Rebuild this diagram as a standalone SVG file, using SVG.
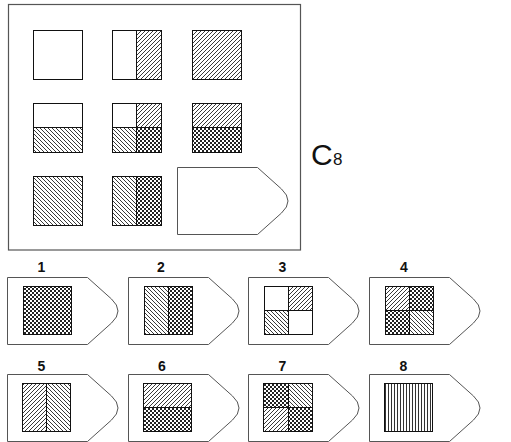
<svg xmlns="http://www.w3.org/2000/svg" width="511" height="442" viewBox="0 0 511 442">
<style>
.sq{stroke:#111;stroke-width:1}
.w{fill:#fff}
.f{fill:url(#fwd)}
.b{fill:url(#back)}
.c{fill:url(#chk)}
.v{fill:url(#vert)}
.pent{fill:#fff;stroke:#555;stroke-width:1}
.lbl{font-family:"Liberation Sans",Arial,sans-serif;font-weight:bold;font-size:14px;text-anchor:middle;fill:#111}
</style>
<defs>
<pattern id="fwd" patternUnits="userSpaceOnUse" width="4" height="4">
<rect width="4" height="4" fill="#fff"/>
<path d="M-1,1 L1,-1 M0,4 L4,0 M3,5 L5,3" stroke="#222" stroke-width="0.9"/>
</pattern>
<pattern id="back" patternUnits="userSpaceOnUse" width="4" height="4">
<rect width="4" height="4" fill="#fff"/>
<path d="M-1,3 L1,5 M0,0 L4,4 M3,-1 L5,1" stroke="#222" stroke-width="0.9"/>
</pattern>
<pattern id="chk" patternUnits="userSpaceOnUse" width="4" height="4">
<rect width="4" height="4" fill="#fff"/>
<rect width="2" height="2" fill="#222"/>
<rect x="2" y="2" width="2" height="2" fill="#222"/>
</pattern>
<pattern id="vert" patternUnits="userSpaceOnUse" width="3" height="3">
<rect width="3" height="3" fill="#fff"/>
<rect x="1" width="1" height="3" fill="#333"/>
</pattern>
<path id="pshape" d="M0,0 H80 L104,21.5 Q117,33.5 104,45.5 L80,67 H0 Z"/>
</defs>
<rect width="511" height="442" fill="#fff"/>
<g id="connectors"/>
<g id="matrix">
<rect x="8.5" y="4.5" width="292" height="245.5" fill="none" stroke="#555" stroke-width="1.2"/>
<g id="m11"><rect class="sq w" x="33.5" y="30.5" width="49" height="49"/></g>
<g id="m12"><rect class="sq w" x="112.5" y="30.5" width="24" height="49"/><rect class="sq f" x="136.5" y="30.5" width="25" height="49"/></g>
<g id="m13"><rect class="sq f" x="192.5" y="30.5" width="49" height="49"/></g>
<g id="m21"><rect class="sq w" x="33.5" y="103.5" width="49" height="24"/><rect class="sq b" x="33.5" y="127.5" width="49" height="25"/></g>
<g id="m22"><rect class="sq w" x="112.5" y="103.5" width="24" height="24"/><rect class="sq f" x="136.5" y="103.5" width="25" height="24"/><rect class="sq b" x="112.5" y="127.5" width="24" height="25"/><rect class="sq c" x="136.5" y="127.5" width="25" height="25"/></g>
<g id="m23"><rect class="sq f" x="192.5" y="103.5" width="49" height="24"/><rect class="sq c" x="192.5" y="127.5" width="49" height="25"/></g>
<g id="m31"><rect class="sq b" x="33.5" y="176.5" width="49" height="49"/></g>
<g id="m32"><rect class="sq b" x="112.5" y="176.5" width="24" height="49"/><rect class="sq c" x="136.5" y="176.5" width="25" height="49"/></g>
<g id="m33"><use href="#pshape" class="pent" transform="translate(177.5,167.5)"/></g>
</g>
<g id="title"><text x="311" y="165" font-family="'Liberation Sans',Arial,sans-serif" font-size="30" fill="#111">C</text><text x="333" y="165" font-family="'Liberation Sans',Arial,sans-serif" font-size="17" fill="#111">8</text></g>
<g id="opt1"><text class="lbl" x="41.5" y="272">1</text><use href="#pshape" class="pent" transform="translate(7.5,277.5)"/><rect class="sq c" x="23.5" y="286.5" width="48" height="48"/></g>
<g id="opt2"><text class="lbl" x="161" y="272">2</text><use href="#pshape" class="pent" transform="translate(128.5,277.5)"/><rect class="sq b" x="144.5" y="286.5" width="24" height="48"/><rect class="sq c" x="168.5" y="286.5" width="24" height="48"/></g>
<g id="opt3"><text class="lbl" x="282.5" y="272">3</text><use href="#pshape" class="pent" transform="translate(248.5,277.5)"/><rect class="sq w" x="264.5" y="286.5" width="24" height="24"/><rect class="sq f" x="288.5" y="286.5" width="24" height="24"/><rect class="sq b" x="264.5" y="310.5" width="24" height="24"/><rect class="sq w" x="288.5" y="310.5" width="24" height="24"/></g>
<g id="opt4"><text class="lbl" x="404" y="272">4</text><use href="#pshape" class="pent" transform="translate(369.5,277.5)"/><rect class="sq f" x="385.5" y="286.5" width="24" height="24"/><rect class="sq c" x="409.5" y="286.5" width="24" height="24"/><rect class="sq c" x="385.5" y="310.5" width="24" height="24"/><rect class="sq b" x="409.5" y="310.5" width="24" height="24"/></g>
<g id="opt5"><text class="lbl" x="41.5" y="371">5</text><use href="#pshape" class="pent" transform="translate(7.5,374.5)"/><rect class="sq f" x="22.5" y="383.5" width="24" height="48"/><rect class="sq b" x="46.5" y="383.5" width="24" height="48"/></g>
<g id="opt6"><text class="lbl" x="162" y="371">6</text><use href="#pshape" class="pent" transform="translate(128.5,374.5)"/><rect class="sq f" x="143.5" y="383.5" width="48" height="24"/><rect class="sq c" x="143.5" y="407.5" width="48" height="24"/></g>
<g id="opt7"><text class="lbl" x="282.5" y="371">7</text><use href="#pshape" class="pent" transform="translate(248.5,374.5)"/><rect class="sq c" x="263.5" y="383.5" width="25" height="24"/><rect class="sq b" x="288.5" y="383.5" width="24" height="24"/><rect class="sq f" x="263.5" y="407.5" width="25" height="24"/><rect class="sq c" x="288.5" y="407.5" width="24" height="24"/></g>
<g id="opt8"><text class="lbl" x="403.5" y="371">8</text><use href="#pshape" class="pent" transform="translate(369.5,374.5)"/><rect class="sq v" x="384.5" y="383.5" width="48" height="48"/></g>
</svg>
